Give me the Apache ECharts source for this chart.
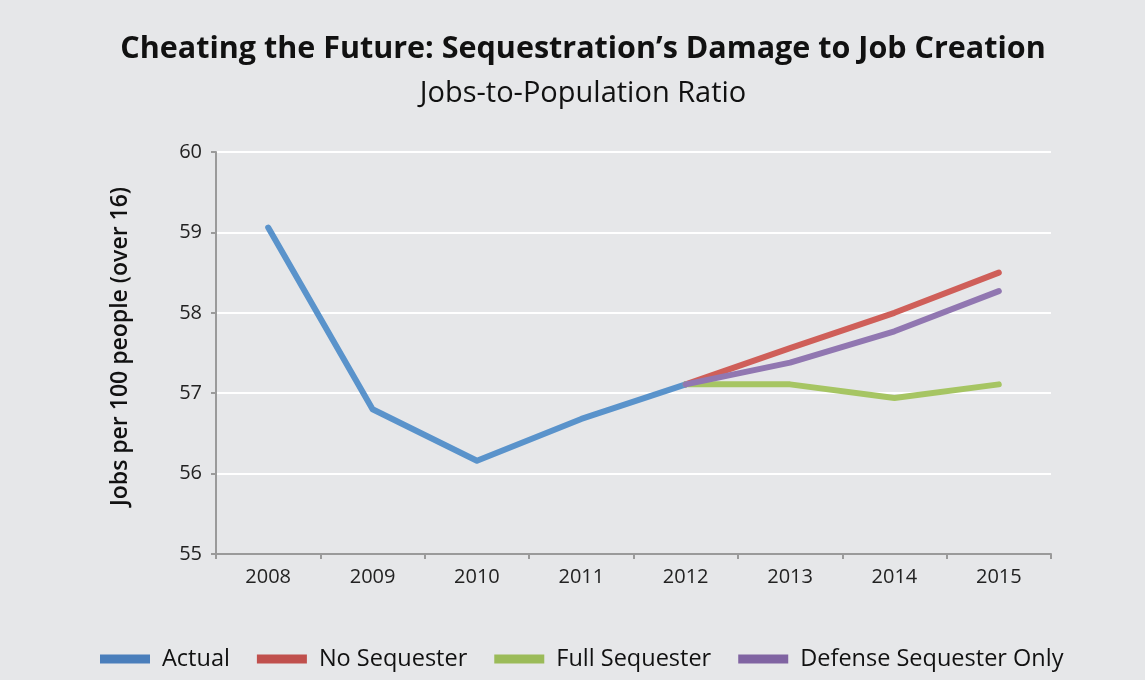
<!DOCTYPE html>
<html><head><meta charset="utf-8">
<script src="https://cdn.jsdelivr.net/npm/echarts@6/dist/echarts.min.js"></script>
<style>html,body{margin:0;padding:0;background:#e6e7e9}#c{width:1145px;height:680px}</style>
</head><body><div id="c"></div>
<script>
const years = ['2008','2009','2010','2011','2012','2013','2014','2015'];
const actual = [59.06, 56.80, 56.16, 56.68, 57.11, null, null, null];
const noSequester = [null, null, null, null, 57.11, 57.56, 58.00, 58.50];
const fullSequester = [null, null, null, null, 57.11, 57.11, 56.94, 57.11];
const defenseOnly = [null, null, null, null, 57.11, 57.38, 57.77, 58.27];
const names = ['Actual','No Sequester','Full Sequester','Defense Sequester Only'];
const lineColors = ['#5a93cb','#cf5f59','#a6c563','#9177b1'];
const legendColors = ['#4a7ebb','#c0504d','#9bbb59','#8064a2'];
const seriesData = [actual, noSequester, fullSequester, defenseOnly];
const FONT = '"Open Sans", Lato, sans-serif';

const chart = echarts.init(document.getElementById('c'));
chart.setOption({
  backgroundColor: '#e6e7e9',
  animation: false,
  title: [
    {text: 'Cheating the Future: Sequestration\u2019s Damage to Job Creation', left: 578, textAlign: 'center', top: 29,
     textStyle: {fontFamily: FONT, fontWeight: 'bold', fontSize: 30.5, color: '#111'}},
    {text: 'Jobs-to-Population Ratio', left: 578, textAlign: 'center', top: 74,
     textStyle: {fontFamily: FONT, fontWeight: 'normal', fontSize: 29, color: '#111'}}
  ],
  grid: {left: 216, right: 94, top: 152, bottom: 126},
  legend: {
    bottom: 4, left: 95, icon: 'rect', itemWidth: 50, itemHeight: 9, itemGap: 27,
    textStyle: {fontFamily: FONT, fontSize: 23.5, color: '#111', padding: [0, 0, 0, 7]},
    data: names.map((n, i) => ({name: n, itemStyle: {color: legendColors[i]}}))
  },
  xAxis: {
    type: 'category', data: years, boundaryGap: true,
    axisLine: {lineStyle: {color: '#9a9a9a', width: 2}},
    axisTick: {show: true, length: 5, lineStyle: {color: '#9a9a9a', width: 2}},
    axisLabel: {fontFamily: FONT, fontSize: 20, color: '#222', margin: 13}
  },
  yAxis: {
    type: 'value', min: 55, max: 60, interval: 1,
    name: 'Jobs per 100 people (over 16)', nameLocation: 'middle', nameGap: 84,
    nameTextStyle: {fontFamily: FONT, fontWeight: '600', fontSize: 23, color: '#111', padding: [0, 0, 0, 13]},
    axisLine: {show: true, lineStyle: {color: '#9a9a9a', width: 2}},
    axisTick: {show: true, length: 5, lineStyle: {color: '#9a9a9a', width: 2}},
    axisLabel: {fontFamily: FONT, fontSize: 20, color: '#222', margin: 14},
    splitLine: {show: true, lineStyle: {color: '#ffffff', width: 2}}
  },
  series: seriesData.map((d, i) => ({
    name: names[i], type: 'line', data: d, showSymbol: false, symbol: 'none',
    connectNulls: false, z: i === 0 ? 5 : 3 + i,
    itemStyle: {color: legendColors[i]},
    lineStyle: {color: lineColors[i], width: 6, cap: 'round', join: 'round'}
  }))
});
</script></body></html>
